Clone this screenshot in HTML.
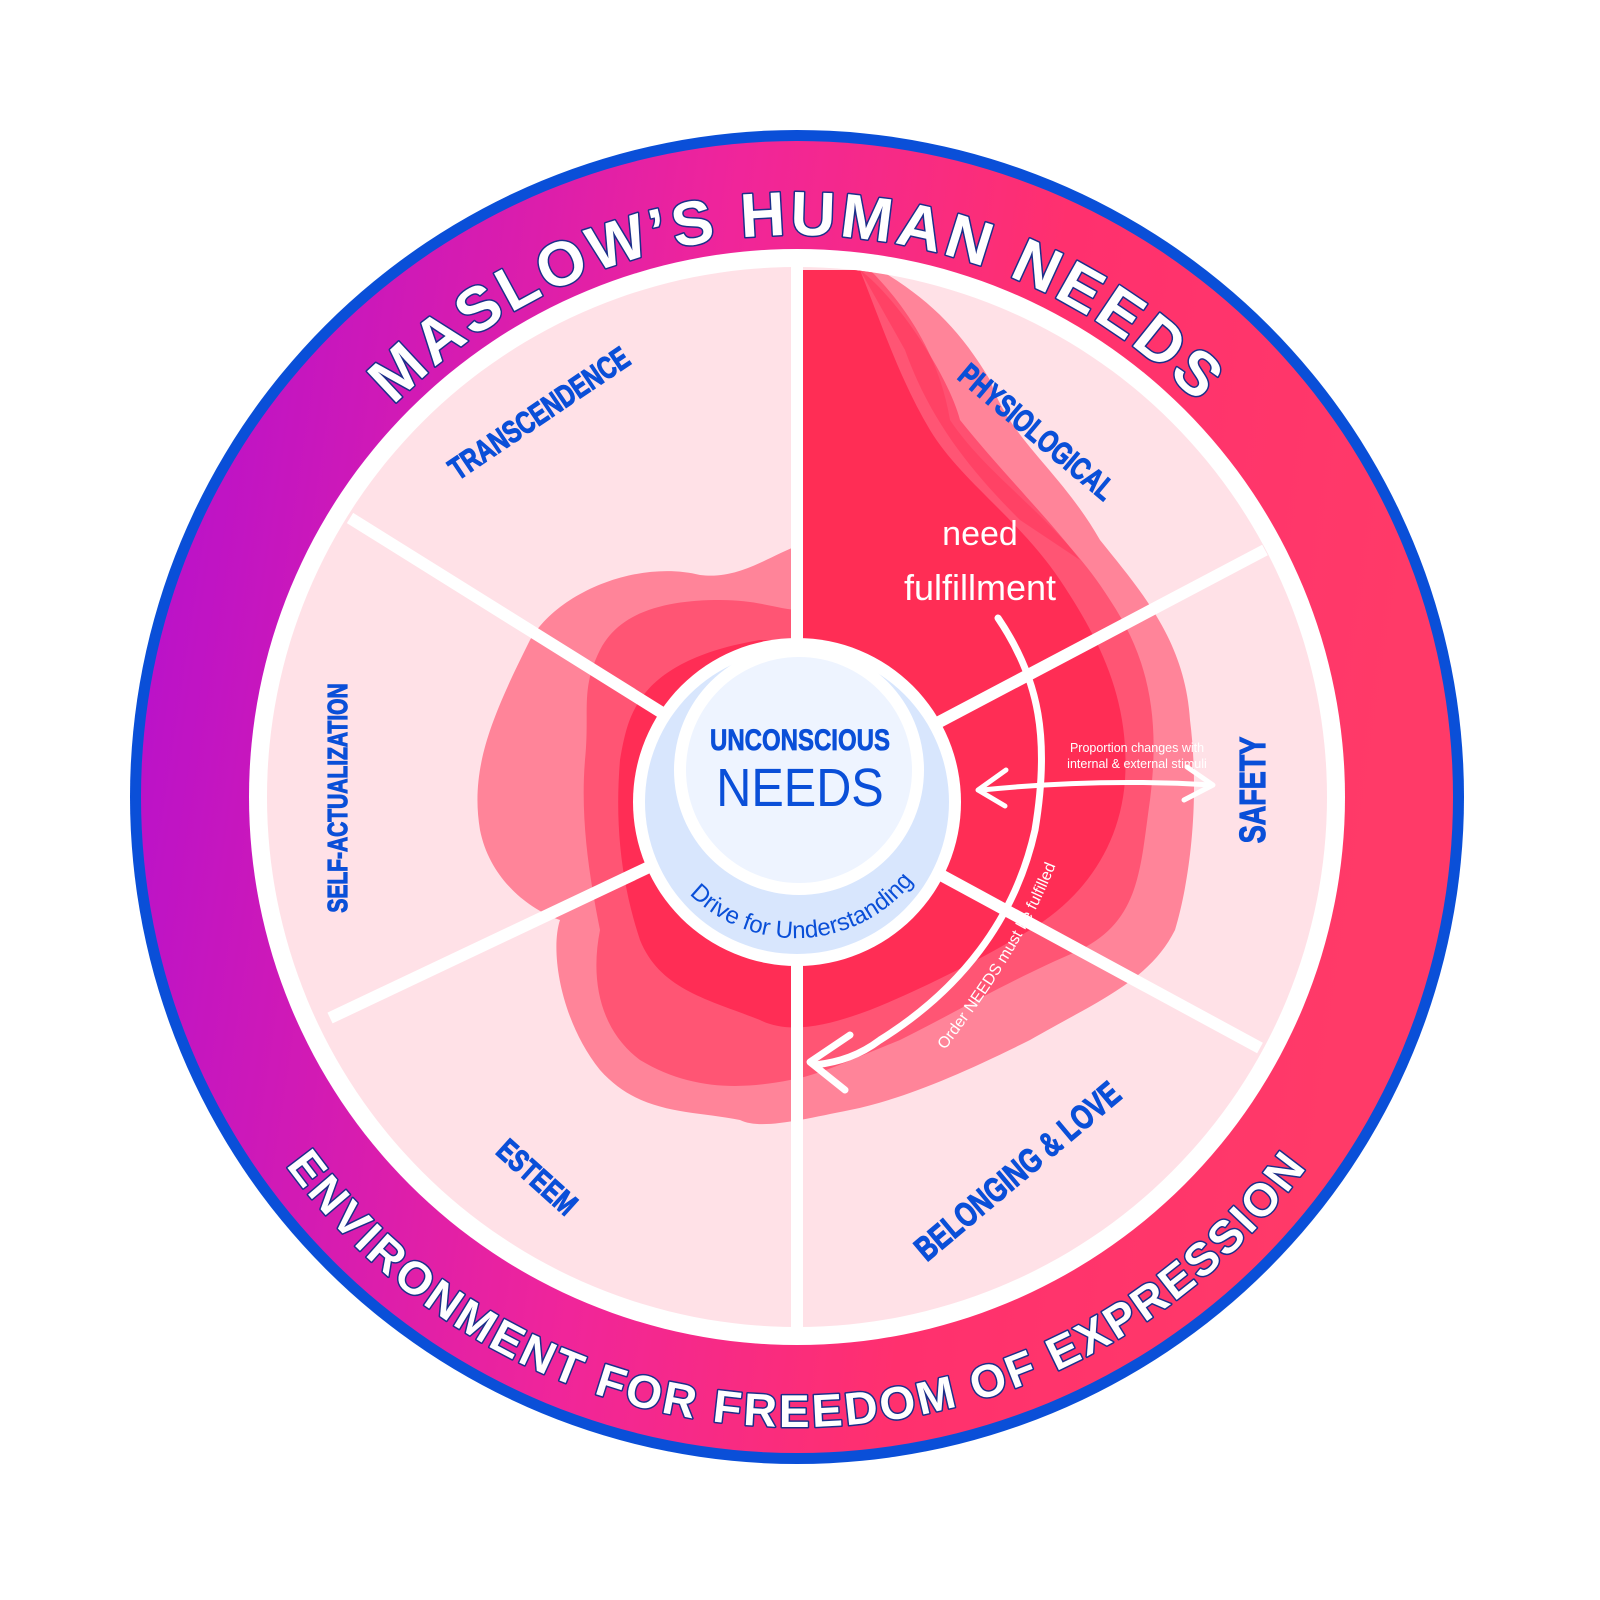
<!DOCTYPE html>
<html><head><meta charset="utf-8"><style>
html,body{margin:0;padding:0;background:#fff;width:1600px;height:1600px;overflow:hidden}
svg{display:block}
</style></head><body>
<svg width="1600" height="1600" viewBox="0 0 1600 1600" xmlns="http://www.w3.org/2000/svg">
<defs>
<linearGradient id="rg" x1="0" y1="0" x2="1" y2="0.15">
<stop offset="0" stop-color="#b20fd0"/>
<stop offset="0.45" stop-color="#f0259a"/>
<stop offset="0.7" stop-color="#ff306e"/>
<stop offset="1" stop-color="#ff3a68"/>
</linearGradient>
<clipPath id="disc"><circle cx="797" cy="797" r="530"/></clipPath>
<path id="topArc" d="M 235 797 A 562 562 0 0 1 1359 797"/>
<path id="botArc" d="M 167 797 A 630 630 0 0 0 1427 797"/>
<path id="drivePath" d="M 670 870 A 150 150 0 0 0 930 855"/>
<path id="orderPath" d="M 945 1050 C 990 990, 1040 920, 1068 830"/>
</defs>
<circle cx="797" cy="797" r="667" fill="#0a4fd8"/>
<circle cx="797" cy="797" r="656" fill="url(#rg)"/>
<circle cx="797" cy="797" r="548" fill="#fff"/>
<circle cx="797" cy="797" r="530" fill="#ffe1e7"/>
<g clip-path="url(#disc)">
<path fill="#ff8499" d="M 530 640 C 560 590, 640 560, 700 575 C 740 580, 770 555, 800 545 L 800 270 L 880 270 C 930 300, 960 330, 990 380 C 1010 440, 1060 470, 1100 540 C 1140 590, 1185 640, 1190 720 C 1200 800, 1190 880, 1175 930 C 1150 980, 1100 1000, 1030 1040 C 960 1075, 900 1100, 850 1110 C 800 1120, 760 1130, 740 1120 C 690 1110, 640 1115, 600 1070 C 560 1020, 550 950, 560 920 C 530 910, 490 880, 480 830 C 470 770, 490 720, 530 640 Z"/>
<path fill="#ff5574" d="M 600 650 C 620 610, 670 600, 720 600 C 760 600, 780 610, 800 610 L 800 270 L 870 270 C 910 310, 940 360, 950 420 C 990 480, 1060 520, 1110 600 C 1150 660, 1160 720, 1150 800 C 1140 870, 1140 920, 1080 950 C 1010 980, 960 1010, 900 1040 C 850 1060, 820 1075, 790 1080 C 740 1090, 690 1090, 640 1060 C 600 1030, 590 980, 600 930 C 590 880, 580 820, 585 760 C 590 710, 580 690, 600 650 Z"/>
<path fill="#ff2d55" d="M 640 700 C 660 670, 700 650, 760 640 L 800 640 L 800 270 L 860 270 C 880 320, 900 380, 930 430 C 960 480, 1020 520, 1060 580 C 1100 640, 1130 700, 1125 780 C 1120 850, 1080 900, 1030 930 C 980 960, 920 990, 870 1010 C 830 1025, 790 1035, 760 1020 C 710 1000, 660 990, 640 940 C 620 880, 615 820, 620 760 C 625 730, 630 715, 640 700 Z"/>
<path fill="#ff3b60" opacity="0.7" d="M 860 270 C 900 300, 950 380, 960 420 C 1000 470, 1050 520, 1080 560 L 1020 520 C 970 470, 930 420, 905 350 Z"/>
</g>
<g stroke="#fff" stroke-width="12" stroke-linecap="butt">
<line x1="797" y1="797" x2="797" y2="260"/>
<line x1="797" y1="797" x2="797" y2="1335"/>
<line x1="797" y1="797" x2="1265" y2="550"/>
<line x1="797" y1="797" x2="1260" y2="1048"/>
<line x1="797" y1="797" x2="330" y2="1018"/>
<line x1="797" y1="797" x2="350" y2="518"/>
</g>
<circle cx="797" cy="802" r="164" fill="#fff"/>
<circle cx="797" cy="802" r="152" fill="#d8e6fd"/>
<circle cx="799" cy="770" r="125" fill="#fff"/>
<circle cx="799" cy="770" r="113" fill="#eef4ff"/>
<text x="800" y="750" text-anchor="middle" font-family="Liberation Sans, sans-serif" font-weight="bold" font-size="30" fill="#0a4fd8" stroke="#0a4fd8" stroke-width="0.8" transform="translate(800 750) scale(0.8 1) translate(-800 -750)">UNCONSCIOUS</text>
<text x="800" y="806" text-anchor="middle" font-family="Liberation Sans, sans-serif" font-size="54" fill="#0a4fd8" transform="translate(800 806) scale(0.9 1) translate(-800 -806)">NEEDS</text>
<text font-family="Liberation Sans, sans-serif" font-size="24" fill="#0a4fd8"><textPath href="#drivePath" startOffset="50%" text-anchor="middle">Drive for Understanding</textPath></text>
<text x="980" y="545" text-anchor="middle" font-family="Liberation Sans, sans-serif" font-size="34" fill="#fff">need</text>
<text x="980" y="600" text-anchor="middle" font-family="Liberation Sans, sans-serif" font-size="36" fill="#fff">fulfillment</text>
<path d="M 998 618 C 1040 680, 1050 740, 1035 830 C 1015 920, 960 990, 880 1040 C 860 1055, 840 1062, 815 1065" fill="none" stroke="#fff" stroke-width="7" stroke-linecap="round"/>
<path d="M 850 1035 L 810 1062 L 845 1090" fill="none" stroke="#fff" stroke-width="7" stroke-linecap="round" stroke-linejoin="round"/>
<path d="M 982 790 C 1050 783, 1130 780, 1212 785" fill="none" stroke="#fff" stroke-width="5" stroke-linecap="round"/>
<path d="M 1006 770 L 978 790 L 1005 806" fill="none" stroke="#fff" stroke-width="5" stroke-linecap="round" stroke-linejoin="round"/>
<path d="M 1187 767 L 1213 785 L 1184 800" fill="none" stroke="#fff" stroke-width="5" stroke-linecap="round" stroke-linejoin="round"/>
<text x="1137" y="752" text-anchor="middle" font-family="Liberation Sans, sans-serif" font-size="12.5" fill="#fff">Proportion changes with</text>
<text x="1137" y="768" text-anchor="middle" font-family="Liberation Sans, sans-serif" font-size="12.5" fill="#fff">internal &amp; external stimuli</text>
<text font-family="Liberation Sans, sans-serif" font-size="16" fill="#fff"><textPath href="#orderPath" startOffset="0">Order NEEDS must be fulfilled</textPath></text>
<g font-family="Liberation Sans, sans-serif" font-weight="bold" fill="#0a4fd8" stroke="#0a4fd8" stroke-width="1.2" text-anchor="middle">
<text transform="translate(545 422) rotate(-34) scale(0.75 1)" font-size="31">TRANSCENDENCE</text>
<text transform="translate(1030 440) rotate(40) scale(0.75 1)" font-size="31">PHYSIOLOGICAL</text>
<text transform="translate(1265 790) rotate(-90) scale(0.75 1)" font-size="36">SAFETY</text>
<text transform="translate(1025 1180) rotate(-40) scale(0.75 1)" font-size="34">BELONGING &amp; LOVE</text>
<text transform="translate(530 1185) rotate(42) scale(0.75 1)" font-size="31">ESTEEM</text>
<text transform="translate(347 798) rotate(-90) scale(0.75 1)" font-size="28">SELF-ACTUALIZATION</text>
</g>
<g font-family="Liberation Sans, sans-serif" font-weight="bold" fill="#fff" stroke="#1b2f8a" stroke-width="3" paint-order="stroke" stroke-linejoin="round">
<text font-size="62" letter-spacing="4"><textPath href="#topArc" startOffset="50%" text-anchor="middle">MASLOW’S HUMAN NEEDS</textPath></text>
<text font-size="46" letter-spacing="3"><textPath href="#botArc" startOffset="50%" text-anchor="middle">ENVIRONMENT FOR FREEDOM OF EXPRESSION</textPath></text>
</g>
</svg>
</body></html>
